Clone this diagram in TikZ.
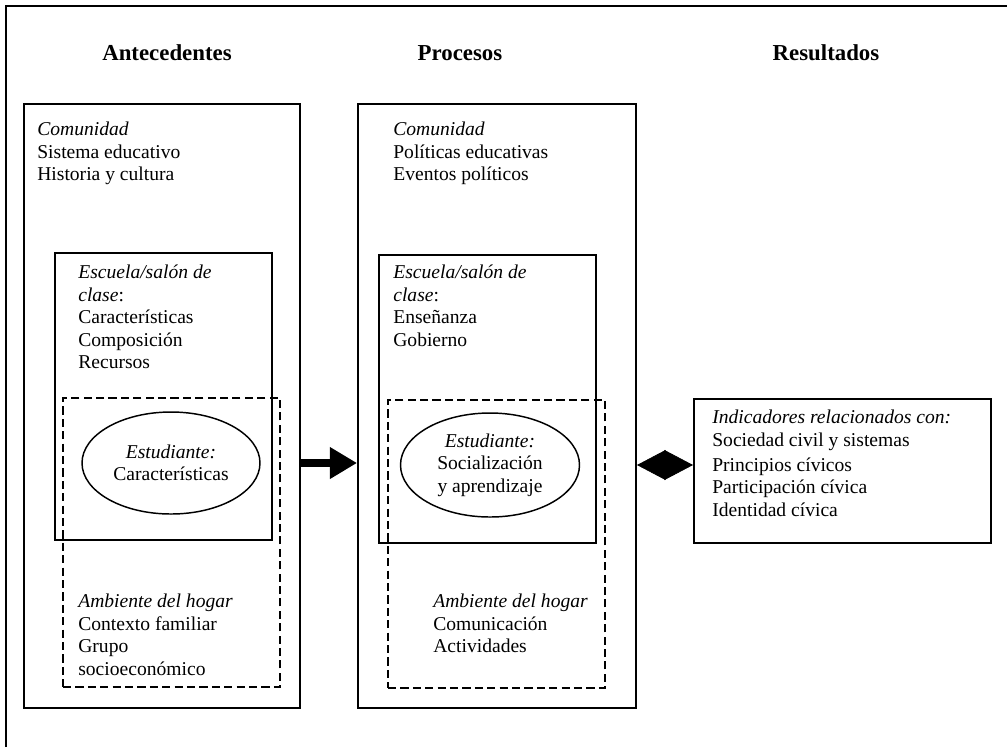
\documentclass[tikz,border=0pt]{standalone}
\usepackage{fontspec}
\setmainfont{Liberation Serif}
\usetikzlibrary{arrows.meta,fit,shapes.geometric}
\definecolor{FigInk}{HTML}{000000}
\newcommand\pxu{0.613pt}
\tikzset{
  every node/.style={text=FigInk, font=\fontsize{12}{13.8}\selectfont},
  frame/.style={draw=FigInk, line width=1.2pt},
  panel/.style={draw=FigInk, line width=1.2pt, inner sep=0pt},
  home/.style={draw=FigInk, line width=1.1pt, dash pattern=on 5pt off 2.6pt, inner sep=0pt},
  student/.style={draw=FigInk, line width=0.9pt, ellipse, inner sep=0pt, align=center},
  heading/.style={font=\fontsize{14}{16}\selectfont\bfseries},
  entry/.style={anchor=north west, inner sep=0pt, align=left},
  flow/.style={-{Triangle[length=16.6pt,width=18.4pt]}, draw=FigInk, line width=4.9pt},
  link/.style={{Triangle[length=17.6pt,width=18.4pt]}-{Triangle[length=17.6pt,width=18.4pt]}, draw=FigInk, line width=0.4pt},
}
\begin{document}
\begin{tikzpicture}[x=\pxu,y=-\pxu]
  \useasboundingbox[fill=white] (0,0) rectangle (1007,747);
  % outer frame (cut at the right and bottom)
  \draw[frame] (6,747) -- (6,6) -- (1007,6);
  % column headings
  \node[heading] (antTitle) at (167,53) {Antecedentes};
  \node[heading] (procTitle) at (460,53) {Procesos};
  \node[heading] (resTitle) at (826,53) {Resultados};
  % Antecedentes
  \node[panel, fit={(24,104) (300,708)}] (antBox) {};
  \node[panel, fit={(55,253) (272,540)}] (antSchool) {};
  \node[home, fit={(63,398) (280,687)}] (antHome) {};
  \node[student, minimum width=178*\pxu, minimum height=102*\pxu] (antStud) at (171,463)
    {\textit{Estudiante:}\\Características};
  \node[entry] (antCom) at (37,122) {\textit{Comunidad}\\Sistema educativo\\Historia y cultura};
  \node[entry] (antSchTxt) at (78,265)
    {\textit{Escuela/salón de}\\\textit{clase}:\\Características\\Composición\\Recursos};
  \node[entry] (antHomeTxt) at (78,594)
    {\textit{Ambiente del hogar}\\Contexto familiar\\Grupo\\socioeconómico};
  % Procesos
  \node[panel, fit={(358,104) (636,708)}] (procBox) {};
  \node[panel, fit={(379,255) (596,543)}] (procSchool) {};
  \node[home, fit={(388,400) (605,688)}] (procHome) {};
  \node[student, minimum width=179*\pxu, minimum height=104*\pxu] (procStud) at (490,465)
    {\textit{Estudiante:}\\Socialización\\y aprendizaje};
  \node[entry] (procCom) at (393,122) {\textit{Comunidad}\\Políticas educativas\\Eventos políticos};
  \node[entry] (procSchTxt) at (393,265)
    {\textit{Escuela/salón de}\\\textit{clase}:\\Enseñanza\\Gobierno};
  \node[entry] (procHomeTxt) at (433,594)
    {\textit{Ambiente del hogar}\\Comunicación\\Actividades};
  % Resultados
  \node[panel, fit={(694,399) (991,543)}] (resBox) {};
  \node[entry] (resTxt) at (712,410)
    {\textit{Indicadores relacionados con:}\\Sociedad civil y sistemas\\[1.5pt]Principios cívicos\\Participación cívica\\Identidad cívica};
  % connectors
  \draw[flow] (antBox.east |- antStud.center) -- (procBox.west |- antStud.center);
  \draw[link] (procBox.east |- procStud.center) -- (resBox.west |- procStud.center);
\end{tikzpicture}
\end{document}
